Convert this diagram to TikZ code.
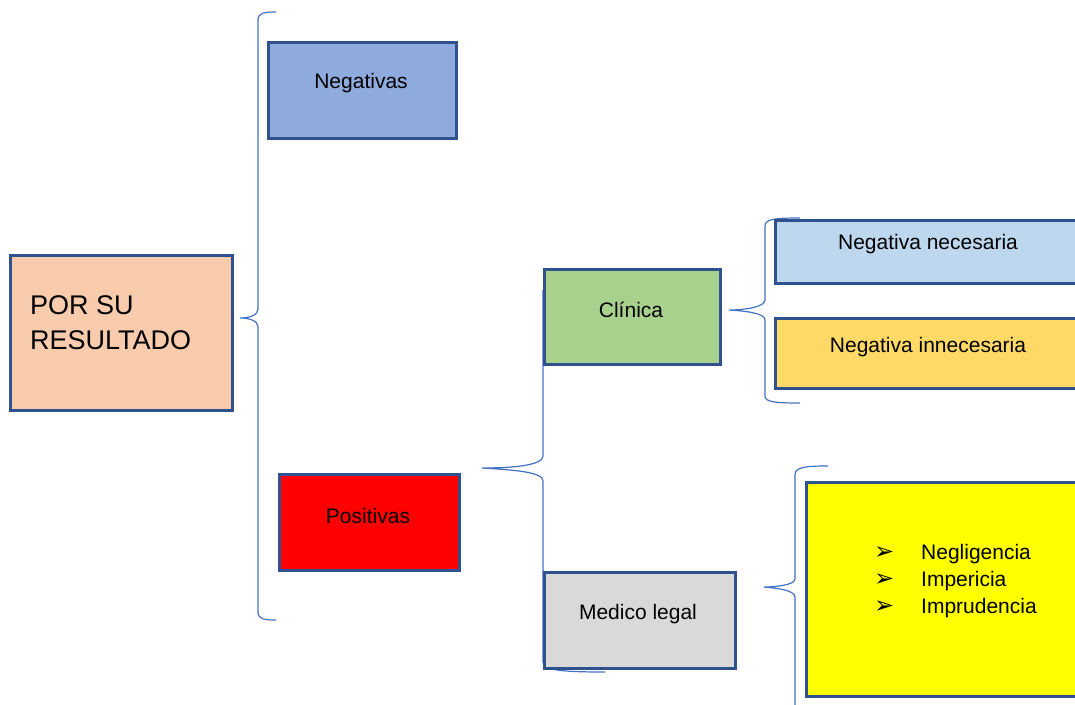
\documentclass[tikz,border=0pt]{standalone}
\usepackage{fontspec}
\setmainfont{Liberation Sans}
\newfontfamily\dejavu{DejaVu Sans}
\usetikzlibrary{calc}
\definecolor{borde}{HTML}{2F528F}
\definecolor{llave}{HTML}{4472C4}
\definecolor{durazno}{HTML}{F8CBAD}
\definecolor{azulneg}{HTML}{8FAADC}
\definecolor{verdecli}{HTML}{A9D18E}
\definecolor{grismed}{HTML}{D9D9D9}
\definecolor{celeste}{HTML}{BDD7EE}
\definecolor{ambar}{HTML}{FFD966}
\definecolor{amarillo}{HTML}{FFFF00}
\definecolor{rojo}{HTML}{FF0000}

\tikzset{
  caja/.style={draw=borde, line width=2.5pt, anchor=north west, inner sep=0pt},
  llavec/.style={draw=llave, line width=1.2pt},
  texto/.style={font=\fontsize{21}{27}\selectfont, inner sep=0pt},
}

\begin{document}
\begin{tikzpicture}[x=1pt, y=-1pt]
\useasboundingbox (0,0) rectangle (1075,704);
\clip (0,0) rectangle (1075,704);

% puntas de las llaves
\coordinate (t1) at (240,318);
\coordinate (t2) at (482,468);
\coordinate (t3) at (729,310);
\coordinate (t4) at (764,587);

% llaves
\draw[llavec] (276,12) .. controls (264,12) and (258,13) .. (258,20) -- (258,309) .. controls (258,315) and (250,318) .. (t1) .. controls (250,318) and (258,321) .. (258,327) -- (258,612) .. controls (258,619) and (264,620) .. (276,620);
\draw[llavec] (543,290) -- (543,456) .. controls (543,465) and (515,468) .. (t2) .. controls (515,470) and (543,472) .. (543,481) -- (543,662) .. controls (543,670) and (560,672) .. (605,672);
\draw[llavec] (800,218) .. controls (775,218) and (765,219) .. (765,226) -- (765,300) .. controls (765,307) and (745,310) .. (t3) .. controls (745,311) and (765,313) .. (765,320) -- (765,396) .. controls (765,402) and (775,403) .. (800,403);
\draw[llavec] (828,466) .. controls (805,466) and (795,467) .. (795,475) -- (795,579) .. controls (795,585) and (775,587) .. (t4) .. controls (775,588) and (795,590) .. (795,597) -- (795,710);

% cajas
\node[caja, fill=durazno, minimum width=222pt, minimum height=155pt] (res) at (9,254) {};
\node[caja, fill=azulneg, minimum width=188pt, minimum height=96pt] (neg) at (267,41) {};
\node[caja, fill=rojo, minimum width=180pt, minimum height=96pt] (pos) at (278,473) {};
\node[caja, fill=verdecli, minimum width=176pt, minimum height=95pt] (cli) at (543,268) {};
\node[caja, fill=grismed, minimum width=191pt, minimum height=96pt] (med) at (543,571) {};
\node[caja, fill=celeste, minimum width=330pt, minimum height=63pt] (nec) at (774,219) {};
\node[caja, fill=ambar, minimum width=330pt, minimum height=70pt] (inn) at (774,317) {};
\node[caja, fill=amarillo, minimum width=300pt, minimum height=214pt] (lis) at (805,481) {};

% textos
\node[texto, font=\fontsize{27}{35}\selectfont, anchor=west, align=left] (rest) at (30,323) {POR SU\\RESULTADO};
\node[texto] (negt) at (361,83) {Negativas};
\node[texto] (post) at (368,516) {Positivas};
\node[texto] (clit) at (631,310) {Clínica};
\node[texto] (medt) at (638,614) {Medico legal};
\node[texto] (nect) at (928,244) {Negativa necesaria};
\node[texto] (innt) at (928,347) {Negativa innecesaria};
\node[texto, anchor=west, align=left] (list) at (874,581) {%
  \makebox[47pt][l]{\dejavu\fontsize{24}{27}\selectfont ➢}Negligencia\\
  \makebox[47pt][l]{\dejavu\fontsize{24}{27}\selectfont ➢}Impericia\\
  \makebox[47pt][l]{\dejavu\fontsize{24}{27}\selectfont ➢}Imprudencia};
\end{tikzpicture}
\end{document}
